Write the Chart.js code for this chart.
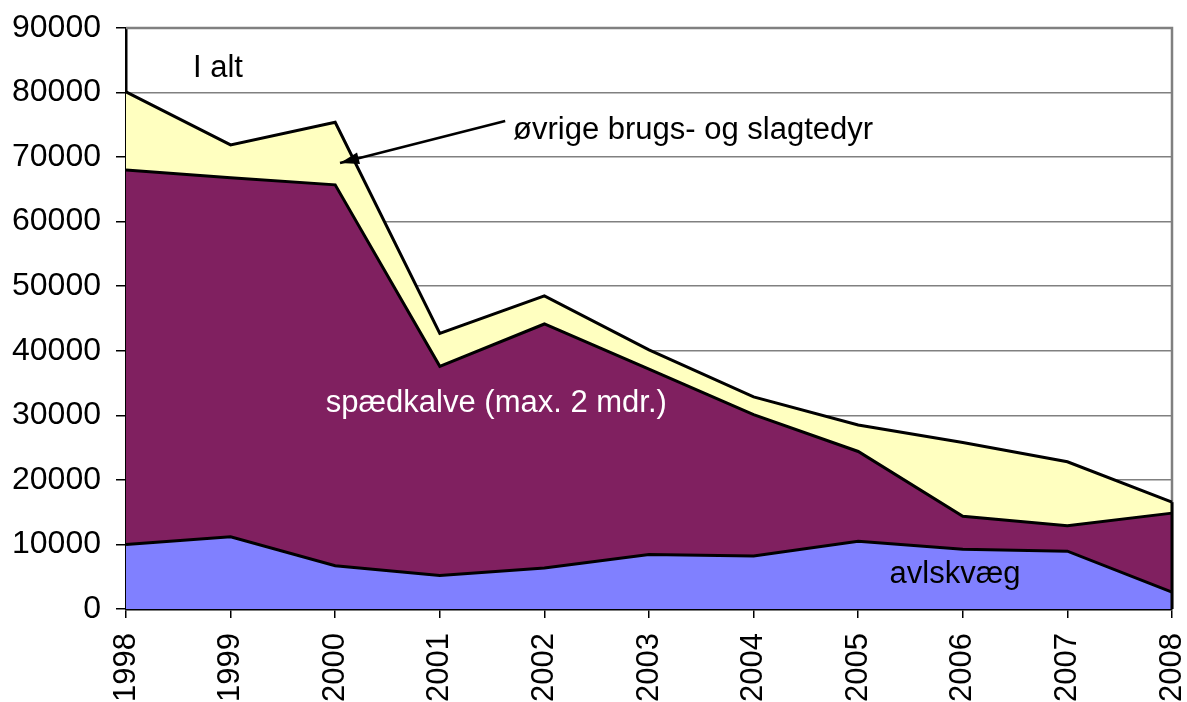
<!DOCTYPE html>
<html lang="da">
<head>
    <meta charset="UTF-8">
    <title>Kvæg 1998-2008</title>
    <script src="https://cdn.jsdelivr.net/npm/chart.js"></script>
    <style>
        html, body {
            margin: 0;
            padding: 0;
            background: #ffffff;
        }
        .wrap {
            width: 1187px;
            height: 702px;
            position: relative;
        }
    </style>
</head>
<body>
<div class="wrap">
    <canvas id="myChart" width="1187" height="702"></canvas>
</div>
<script>
    // data (stacked areas)
    var years = ['1998', '1999', '2000', '2001', '2002', '2003', '2004', '2005', '2006', '2007', '2008'];
    var avlskvaeg = [10000, 11200, 6700, 5200, 6350, 8450, 8200, 10500, 9250, 8950, 2600];
    var spaedkalve = [58000, 55600, 59000, 32400, 37800, 28700, 21900, 13900, 5100, 3950, 12250];
    var oevrige = [12100, 5100, 9700, 5100, 4350, 3000, 2750, 4100, 11450, 9900, 1700];
    var yTicks = [0, 10000, 20000, 30000, 40000, 50000, 60000, 70000, 80000, 90000];

    var FONT = '"Liberation Sans", Arial, sans-serif';

    // labels and arrow in the plot, placed through the scales
    var labelPlugin = {
        id: 'labels',
        afterDatasetsDraw: function (chart) {
            var ctx = chart.ctx;
            var xs = chart.scales.x;
            var ys = chart.scales.y;
            var px = function (i) { return xs.getPixelForValue(i); };
            var py = function (v) { return ys.getPixelForValue(v); };

            // black edge at the last year
            var last = years.length - 1;
            var total = avlskvaeg[last] + spaedkalve[last] + oevrige[last];
            ctx.save();
            ctx.strokeStyle = '#000';
            ctx.lineWidth = 3;
            ctx.beginPath();
            ctx.moveTo(px(last), py(0));
            ctx.lineTo(px(last), py(total));
            ctx.stroke();

            ctx.font = '31px ' + FONT;
            ctx.textBaseline = 'middle';
            ctx.textAlign = 'left';
            ctx.fillStyle = '#000';
            ctx.fillText('I alt', px(0.64), py(83700));
            ctx.fillText('øvrige brugs- og slagtedyr', px(3.70), py(74200));
            ctx.fillText('avlskvæg', px(7.30), py(5300));
            ctx.fillStyle = '#fff';
            ctx.fillText('spædkalve (max. 2 mdr.)', px(1.91), py(31900));

            // arrow
            var x1 = px(3.625), y1 = py(75600);
            var x2 = px(2.046), y2 = py(69100);
            ctx.strokeStyle = '#000';
            ctx.lineWidth = 2.5;
            ctx.beginPath();
            ctx.moveTo(x1, y1);
            ctx.lineTo(x2, y2);
            ctx.stroke();
            var ang = Math.atan2(y2 - y1, x2 - x1);
            ctx.fillStyle = '#000';
            ctx.beginPath();
            ctx.moveTo(x2, y2);
            ctx.lineTo(x2 - 20 * Math.cos(ang - 0.3), y2 - 20 * Math.sin(ang - 0.3));
            ctx.lineTo(x2 - 20 * Math.cos(ang + 0.3), y2 - 20 * Math.sin(ang + 0.3));
            ctx.closePath();
            ctx.fill();
            ctx.restore();
        }
    };

    // grey frame on top and right of the plot
    var framePlugin = {
        id: 'frame',
        beforeDatasetsDraw: function (chart) {
            var a = chart.chartArea;
            var ctx = chart.ctx;
            ctx.save();
            ctx.strokeStyle = '#808080';
            ctx.lineWidth = 2.5;
            ctx.beginPath();
            ctx.moveTo(a.left, a.top);
            ctx.lineTo(a.right, a.top);
            ctx.lineTo(a.right, a.bottom);
            ctx.stroke();
            ctx.restore();
        }
    };

    var ctx = document.getElementById('myChart').getContext('2d');
    var myChart = new Chart(ctx, {
        type: 'line',
        data: {
            labels: years,
            datasets: [{
                label: 'avlskvæg',
                data: avlskvaeg,
                backgroundColor: '#8080ff',
                borderColor: '#000',
                borderWidth: 3,
                fill: 'origin'
            }, {
                label: 'spædkalve (max. 2 mdr.)',
                data: spaedkalve,
                backgroundColor: '#802060',
                borderColor: '#000',
                borderWidth: 3,
                fill: '-1'
            }, {
                label: 'øvrige brugs- og slagtedyr',
                data: oevrige,
                backgroundColor: '#ffffc0',
                borderColor: '#000',
                borderWidth: 3,
                fill: '-1'
            }]
        },
        options: {
            responsive: false,
            animation: false,
            events: [],
            layout: {
                padding: { left: 0, right: 15, top: 28, bottom: 0 }
            },
            elements: {
                point: { radius: 0 },
                line: { tension: 0, borderJoinStyle: 'miter' }
            },
            plugins: {
                legend: { display: false },
                tooltip: { enabled: false }
            },
            scales: {
                x: {
                    offset: false,
                    afterFit: function (s) {
                        s.height = 93;
                        s.paddingLeft = 0;
                        s.paddingRight = 0;
                    },
                    grid: {
                        drawOnChartArea: false,
                        drawTicks: true,
                        tickLength: 9,
                        color: '#000',
                        lineWidth: 1.5
                    },
                    border: { color: '#000', width: 2.5 },
                    ticks: {
                        minRotation: 90,
                        maxRotation: 90,
                        autoSkip: false,
                        padding: 15,
                        color: '#000',
                        font: { family: FONT, size: 31 }
                    }
                },
                y: {
                    stacked: true,
                    min: 0,
                    max: 90000,
                    afterFit: function (s) {
                        s.width = 126;
                        s.paddingTop = 0;
                        s.paddingBottom = 0;
                    },
                    afterBuildTicks: function (s) {
                        s.ticks = yTicks.map(function (v) { return { value: v }; });
                    },
                    grid: {
                        color: '#808080',
                        lineWidth: 1.5,
                        tickLength: 10,
                        tickColor: '#000'
                    },
                    border: { color: '#000', width: 2.5 },
                    ticks: {
                        padding: 15,
                        color: '#000',
                        font: { family: FONT, size: 32 },
                        callback: function (v) { return String(v); }
                    }
                }
            }
        },
        plugins: [framePlugin, labelPlugin]
    });
</script>
</body>
</html>
